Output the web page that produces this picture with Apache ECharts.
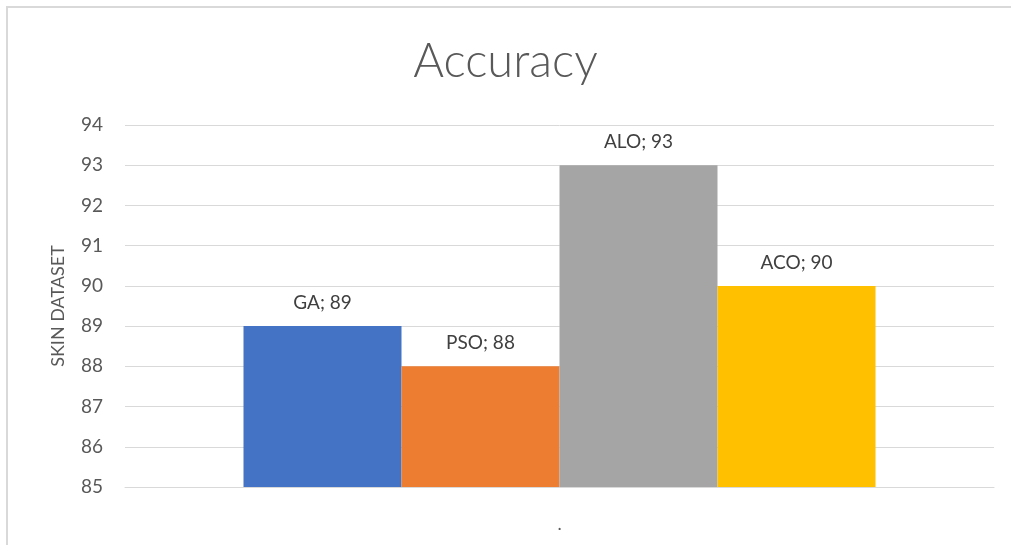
<!DOCTYPE html>
<html><head><meta charset="utf-8">
<script src="https://cdn.jsdelivr.net/npm/echarts@6/dist/echarts.min.js"></script>
<style>html,body{margin:0;padding:0;background:#fff}#c{width:1011px;height:545px}</style>
</head><body><div id="c"></div>
<script>
var categories = ['.'];
var seriesNames = ['GA', 'PSO', 'ALO', 'ACO'];
var seriesValues = [[89], [88], [93], [90]];
var colors = ['#4472C4', '#ED7D31', '#A5A5A5', '#FFC000'];
var yTicks = { min: 85, max: 94, interval: 1 };

var chart = echarts.init(document.getElementById('c'));
var font = 'Lato, "Open Sans", sans-serif';
chart.setOption({
  animation: false,
  graphic: [{ type: 'rect', shape: { x: 7, y: 7, width: 1100, height: 700 }, style: { fill: 'none', stroke: '#d9d9d9', lineWidth: 2 } }],
  title: { text: 'Accuracy', left: 'center', top: 33, textStyle: { fontFamily: font, fontSize: 47, fontWeight: 300, color: '#595959' } },
  grid: { left: 125, right: 17, top: 125, bottom: 58 },
  xAxis: { type: 'category', data: categories,
    axisLine: { lineStyle: { color: '#d9d9d9', width: 1 } }, axisTick: { show: false },
    axisLabel: { margin: 28, fontFamily: font, fontSize: 18, color: '#595959' } },
  yAxis: { type: 'value', min: yTicks.min, max: yTicks.max, interval: yTicks.interval,
    name: 'SKIN DATASET', nameLocation: 'middle', nameGap: 58, nameRotate: 90,
    nameTextStyle: { fontFamily: font, fontSize: 18, color: '#595959' },
    axisLine: { show: false }, axisTick: { show: false },
    splitLine: { lineStyle: { color: '#d9d9d9', width: 1 } },
    axisLabel: { margin: 22, fontFamily: font, fontSize: 19, color: '#595959' } },
  series: seriesNames.map(function (n, i) {
    return { name: n, type: 'bar', data: seriesValues[i], barWidth: 158, barGap: '0%',
      itemStyle: { color: colors[i] },
      label: { show: true, position: 'top', distance: 14, formatter: '{a}; {c}', fontFamily: font, fontSize: 19, color: '#404040' } };
  })
});
</script></body></html>
